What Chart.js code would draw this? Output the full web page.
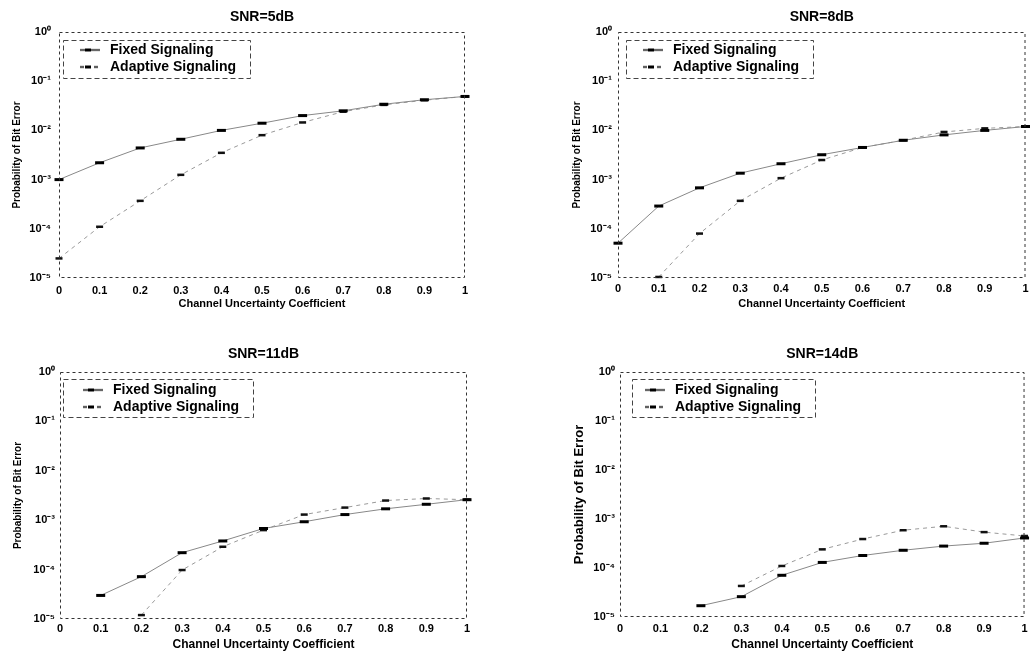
<!DOCTYPE html>
<html>
<head>
<meta charset="utf-8">
<script src="https://cdn.jsdelivr.net/npm/chart.js@4/dist/chart.umd.min.js"></script>
<style>
  html, body { margin: 0; padding: 0; background: #fff; width: 1033px; height: 658px; overflow: hidden; }
  canvas { position: absolute; }
</style>
</head>
<body>
<canvas id="p1" width="516" height="322" style="left:0;top:0"></canvas>
<canvas id="p2" width="517" height="322" style="left:516px;top:0"></canvas>
<canvas id="p3" width="516" height="336" style="left:0;top:322px"></canvas>
<canvas id="p4" width="517" height="336" style="left:516px;top:322px"></canvas>
<script>
// ---------------- data ----------------
const xValues = [0, 0.1, 0.2, 0.3, 0.4, 0.5, 0.6, 0.7, 0.8, 0.9, 1];
const xTickLabels = ['0', '0.1', '0.2', '0.3', '0.4', '0.5', '0.6', '0.7', '0.8', '0.9', '1'];
const yTickValues = [1e-5, 1e-4, 1e-3, 1e-2, 1e-1, 1];
const yTickLabels = ['10\u207B\u2075', '10\u207B\u2074', '10\u207B\u00B3', '10\u207B\u00B2', '10\u207B\u00B9', '10\u2070'];
const seriesNames = ['Fixed Signaling', 'Adaptive Signaling'];
const panelTitles = ['SNR=5dB', 'SNR=8dB', 'SNR=11dB', 'SNR=14dB'];
const xAxisTitle = 'Channel Uncertainty Coefficient';
const yAxisTitle = 'Probability of Bit Error';

const fixed5dB    = [1.0e-3, 2.2e-3, 4.4e-3, 6.6e-3, 1.0e-2, 1.4e-2, 2.0e-2, 2.5e-2, 3.4e-2, 4.2e-2, 4.9e-2];
const adaptive5dB = [2.5e-5, 1.1e-4, 3.7e-4, 1.25e-3, 3.5e-3, 8.0e-3, 1.45e-2, 2.4e-2, 3.3e-2, 4.1e-2, 4.9e-2];

const fixed8dB    = [5.1e-5, 2.9e-4, 6.8e-4, 1.35e-3, 2.1e-3, 3.2e-3, 4.5e-3, 6.3e-3, 8.1e-3, 1.0e-2, 1.2e-2];
const adaptive8dB = [null, 1.05e-5, 8.0e-5, 3.7e-4, 1.07e-3, 2.5e-3, 4.5e-3, 6.3e-3, 9.3e-3, 1.1e-2, 1.2e-2];

const fixed11dB    = [null, 3.0e-5, 7.2e-5, 2.2e-4, 3.8e-4, 6.8e-4, 9.3e-4, 1.3e-3, 1.7e-3, 2.1e-3, 2.6e-3];
const adaptive11dB = [null, null, 1.2e-5, 9.8e-5, 2.9e-4, 6.3e-4, 1.3e-3, 1.8e-3, 2.5e-3, 2.75e-3, 2.6e-3];

const fixed14dB    = [null, null, 1.7e-5, 2.6e-5, 7.1e-5, 1.3e-4, 1.8e-4, 2.3e-4, 2.8e-4, 3.2e-4, 4.1e-4];
const adaptive14dB = [null, null, null, 4.3e-5, 1.1e-4, 2.4e-4, 3.9e-4, 5.9e-4, 7.1e-4, 5.4e-4, 4.5e-4];

// ---------------- styling / layout ----------------
const FONT = "'Liberation Sans', Arial, Helvetica, sans-serif";

function legendSample(dashed) {
  const c = document.createElement('canvas');
  c.width = 41; c.height = 9;
  const g = c.getContext('2d');
  g.strokeStyle = '#000';
  g.lineWidth = 1.4;
  if (dashed) g.setLineDash([4, 3]);
  g.beginPath(); g.moveTo(18, 4.5); g.lineTo(38, 4.5); g.stroke();
  g.setLineDash([]);
  g.lineWidth = 3;
  g.beginPath(); g.moveTo(23, 4.5); g.lineTo(29, 4.5); g.stroke();
  return c;
}
const legendImages = [legendSample(false), legendSample(true)];

const framePlugin = {
  id: 'frame',
  beforeDraw(chart, args, o) {
    const lg = chart.legend;
    const a = chart.chartArea;
    if (lg) {
      lg.left = a.left + o.legendShift[0];
      lg.top = a.top + o.legendShift[1];
      lg.right = lg.left + lg.width;
      lg.bottom = lg.top + lg.height;
    }
  },
  afterDraw(chart, args, o) {
    const a = chart.chartArea;
    const ctx = chart.ctx;
    ctx.save();
    ctx.strokeStyle = '#333';
    ctx.lineWidth = 1;
    ctx.setLineDash([3, 3]);
    ctx.strokeRect(a.left + 0.5, a.top + 0.5, a.right - a.left - 1, a.bottom - a.top - 1);
    const b = o.legendBox;
    ctx.setLineDash([5, 3]);
    ctx.strokeStyle = '#444';
    ctx.strokeRect(a.left + b[0] + 0.5, a.top + b[1] + 0.5, b[2], b[3]);
    ctx.restore();
  }
};

const panelGeometry = [
  { yWidth: 59,  xHeight: 44, padRight: 51, titleTop: 8.6,  titleBottom: 6.6,  yTitleSize: 10, yTitlePad: 11, yTickPad: 8, xTickPad: 6.4, xTitleSize: 11, xTitlePad: 11.4, legendShift: [0, 8], legendBox: [4, 8, 187, 38] },
  { yWidth: 102, xHeight: 44, padRight: 6,  titleTop: 8.6,  titleBottom: 6.6,  yTitleSize: 10, yTitlePad: 55, yTickPad: 6, xTickPad: 4.4, xTitleSize: 11, xTitlePad: 11.4, legendShift: [4, 8], legendBox: [8, 8, 187, 38] },
  { yWidth: 60,  xHeight: 39, padRight: 49, titleTop: 23.6, titleBottom: 9.6,  yTitleSize: 10, yTitlePad: 12, yTickPad: 5, xTickPad: 3.4, xTitleSize: 12, xTitlePad: 5.8,  legendShift: [2, 8], legendBox: [3, 7, 190, 38] },
  { yWidth: 104, xHeight: 41, padRight: 4,  titleTop: 23.6, titleBottom: 9.6,  yTitleSize: 13, yTitlePad: 56, yTickPad: 5, xTickPad: 5.4, xTitleSize: 12, xTitlePad: 5.8,  legendShift: [4, 8], legendBox: [12, 7, 183, 38] }
];

function toPoints(values) {
  return xValues.map((x, i) => ({ x: x, y: values[i] }));
}

function makePanel(id, g, title, fixed, adaptive) {
  return new Chart(document.getElementById(id), {
    type: 'line',
    data: {
      datasets: [
        {
          label: seriesNames[0],
          data: toPoints(fixed),
          borderColor: '#888',
          borderWidth: 1,
          pointStyle: 'line',
          pointRadius: 4.5,
          pointBorderWidth: 3,
          pointBorderColor: '#000',
          pointBackgroundColor: '#000',
          fill: false,
          tension: 0,
          clip: false
        },
        {
          label: seriesNames[1],
          data: toPoints(adaptive),
          borderColor: '#999',
          borderWidth: 1,
          borderDash: [4, 4],
          pointStyle: 'line',
          pointRadius: 3.5,
          pointBorderWidth: 2.5,
          pointBorderColor: '#111',
          pointBackgroundColor: '#111',
          fill: false,
          tension: 0,
          clip: false
        }
      ]
    },
    options: {
      responsive: false,
      animation: false,
      devicePixelRatio: 1,
      events: [],
      layout: { padding: { left: 0, top: 0, right: g.padRight, bottom: 0 } },
      plugins: {
        title: {
          display: true, text: title, fullSize: false, color: '#000',
          font: { family: FONT, size: 14, weight: 'bold', lineHeight: 1.2 },
          padding: { top: g.titleTop, bottom: g.titleBottom }
        },
        legend: {
          position: 'chartArea',
          align: 'start',
          labels: {
            usePointStyle: true,
            pointStyleWidth: 41,
            padding: 3,
            color: '#000',
            font: { family: FONT, size: 14, weight: 'bold' },
            generateLabels(chart) {
              const items = Chart.defaults.plugins.legend.labels.generateLabels(chart);
              items.forEach((it, i) => { it.pointStyle = legendImages[i]; });
              return items;
            }
          }
        },
        tooltip: { enabled: false },
        frame: { legendShift: g.legendShift, legendBox: g.legendBox }
      },
      scales: {
        x: {
          type: 'linear', min: 0, max: 1,
          grid: { display: false, drawTicks: false },
          border: { display: false },
          afterBuildTicks(axis) { axis.ticks = xValues.map(v => ({ value: v })); },
          afterFit(axis) { axis.height = g.xHeight; },
          ticks: {
            autoSkip: false, maxRotation: 0, padding: g.xTickPad, color: '#000',
            font: { family: FONT, size: 11, weight: 'bold' },
            callback(value, index) { return xTickLabels[index]; }
          },
          title: {
            display: true, text: xAxisTitle, color: '#000',
            font: { family: FONT, size: g.xTitleSize, weight: 'bold' },
            padding: { top: 0, bottom: g.xTitlePad }
          }
        },
        y: {
          type: 'logarithmic', min: 1e-5, max: 1,
          grid: { display: false, drawTicks: false },
          border: { display: false },
          afterBuildTicks(axis) { axis.ticks = yTickValues.map(v => ({ value: v })); },
          afterFit(axis) { axis.width = g.yWidth; },
          ticks: {
            autoSkip: false, padding: g.yTickPad, color: '#000',
            font: { family: FONT, size: 11, weight: 'bold' },
            callback(value, index) { return yTickLabels[index]; }
          },
          title: {
            display: true, text: yAxisTitle, color: '#000',
            font: { family: FONT, size: g.yTitleSize, weight: 'bold' },
            padding: { top: g.yTitlePad, bottom: 0 }
          }
        }
      }
    },
    plugins: [framePlugin]
  });
}

makePanel('p1', panelGeometry[0], panelTitles[0], fixed5dB, adaptive5dB);
makePanel('p2', panelGeometry[1], panelTitles[1], fixed8dB, adaptive8dB);
makePanel('p3', panelGeometry[2], panelTitles[2], fixed11dB, adaptive11dB);
makePanel('p4', panelGeometry[3], panelTitles[3], fixed14dB, adaptive14dB);
</script>
</body>
</html>
